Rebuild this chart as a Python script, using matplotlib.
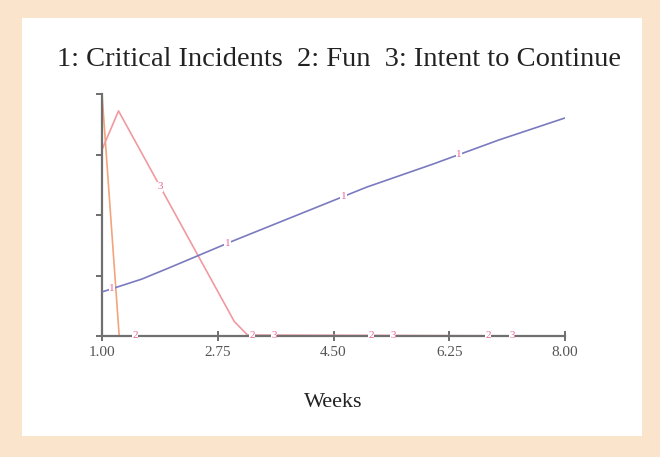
import numpy as np
import matplotlib
matplotlib.use('Agg')
import matplotlib.pyplot as plt
from matplotlib.patches import Rectangle

# Data (y in arbitrary 0-100 units, axis has no labels)
weeks_critical = [1.0, 1.6, 2.0, 3.0, 4.0, 5.0, 6.0, 7.0, 8.0]
critical_incidents = [18.2, 23.5, 28.0, 39.5, 50.5, 61.5, 71.0, 81.0, 90.1]

weeks_fun = [1.0, 1.26, 8.0]
fun = [100.0, 0.0, 0.0]

weeks_intent = [1.0, 1.25, 3.0, 3.2, 8.0]
intent_to_continue = [77.0, 93.0, 6.0, 0.4, 0.0]

x_ticks = [1.00, 2.75, 4.50, 6.25, 8.00]
x_tick_labels = ['1.00', '2.75', '4.50', '6.25', '8.00']

label_x_1 = [1.15, 2.9, 4.65, 6.4]
label_x_2 = [1.5, 3.27, 5.07, 6.84]
label_x_3 = [1.88, 3.6, 5.4, 7.2]

plt.rcParams['font.family'] = ['Liberation Serif', 'DejaVu Serif']

fig = plt.figure(figsize=(6.6, 4.57), dpi=100)
W, H = 660, 457
fig.patch.set_facecolor('#fbe4cc')
fig.patches.append(Rectangle((22 / W, 1 - 436 / H), 620 / W, 418 / H,
                             transform=fig.transFigure, facecolor='white',
                             edgecolor='none', zorder=0))

ax = fig.add_axes([102 / W, 1 - 336 / H, (565 - 102) / W, (336 - 94) / H])
ax.set_facecolor('none')
ax.set_zorder(2)

blue = '#7a7ac0'
orange = '#f2a47c'
pink = '#f09aa0'
label_color = '#e8649c'

ax.plot(weeks_fun, fun, color=orange, lw=1.2, zorder=2)
ax.plot(weeks_intent, intent_to_continue, color=pink, lw=1.2, zorder=2)
ax.plot(weeks_critical, critical_incidents, color=blue, lw=1.2, zorder=3)

for xs, wx, wy, txt in [(label_x_1, weeks_critical, critical_incidents, '1'),
                        (label_x_2, weeks_fun, fun, '2'),
                        (label_x_3, weeks_intent, intent_to_continue, '3')]:
    for x in xs:
        y = np.interp(x, wx, wy)
        ax.text(x, y, txt, color=label_color, fontsize=8, ha='center', va='center',
                zorder=4, bbox=dict(facecolor='white', edgecolor='none', pad=0.3))

ax.set_xlim(1, 8)
ax.set_ylim(0, 100)
ax.set_xticks(x_ticks)
ax.set_xticklabels(x_tick_labels)
ax.set_yticks([0, 25, 50, 75, 100])
ax.set_yticklabels([])

for s in ['top', 'right']:
    ax.spines[s].set_visible(False)
for s in ['left', 'bottom']:
    ax.spines[s].set_color('#707070')
    ax.spines[s].set_linewidth(1.6)

ax.tick_params(axis='x', direction='inout', length=7, width=1.2, color='#555555',
               labelsize=11, labelcolor='#555555', pad=4)
ax.tick_params(axis='y', direction='out', length=4, width=1.2, color='#555555')

ax.set_xlabel('Weeks', fontsize=16, color='#222222', labelpad=24)
fig.text(339 / W, 1 - 59 / H, '1: Critical Incidents  2: Fun  3: Intent to Continue',
         fontsize=20.5, color='#222222', ha='center', va='center')

fig.savefig('out.png', dpi=100)
